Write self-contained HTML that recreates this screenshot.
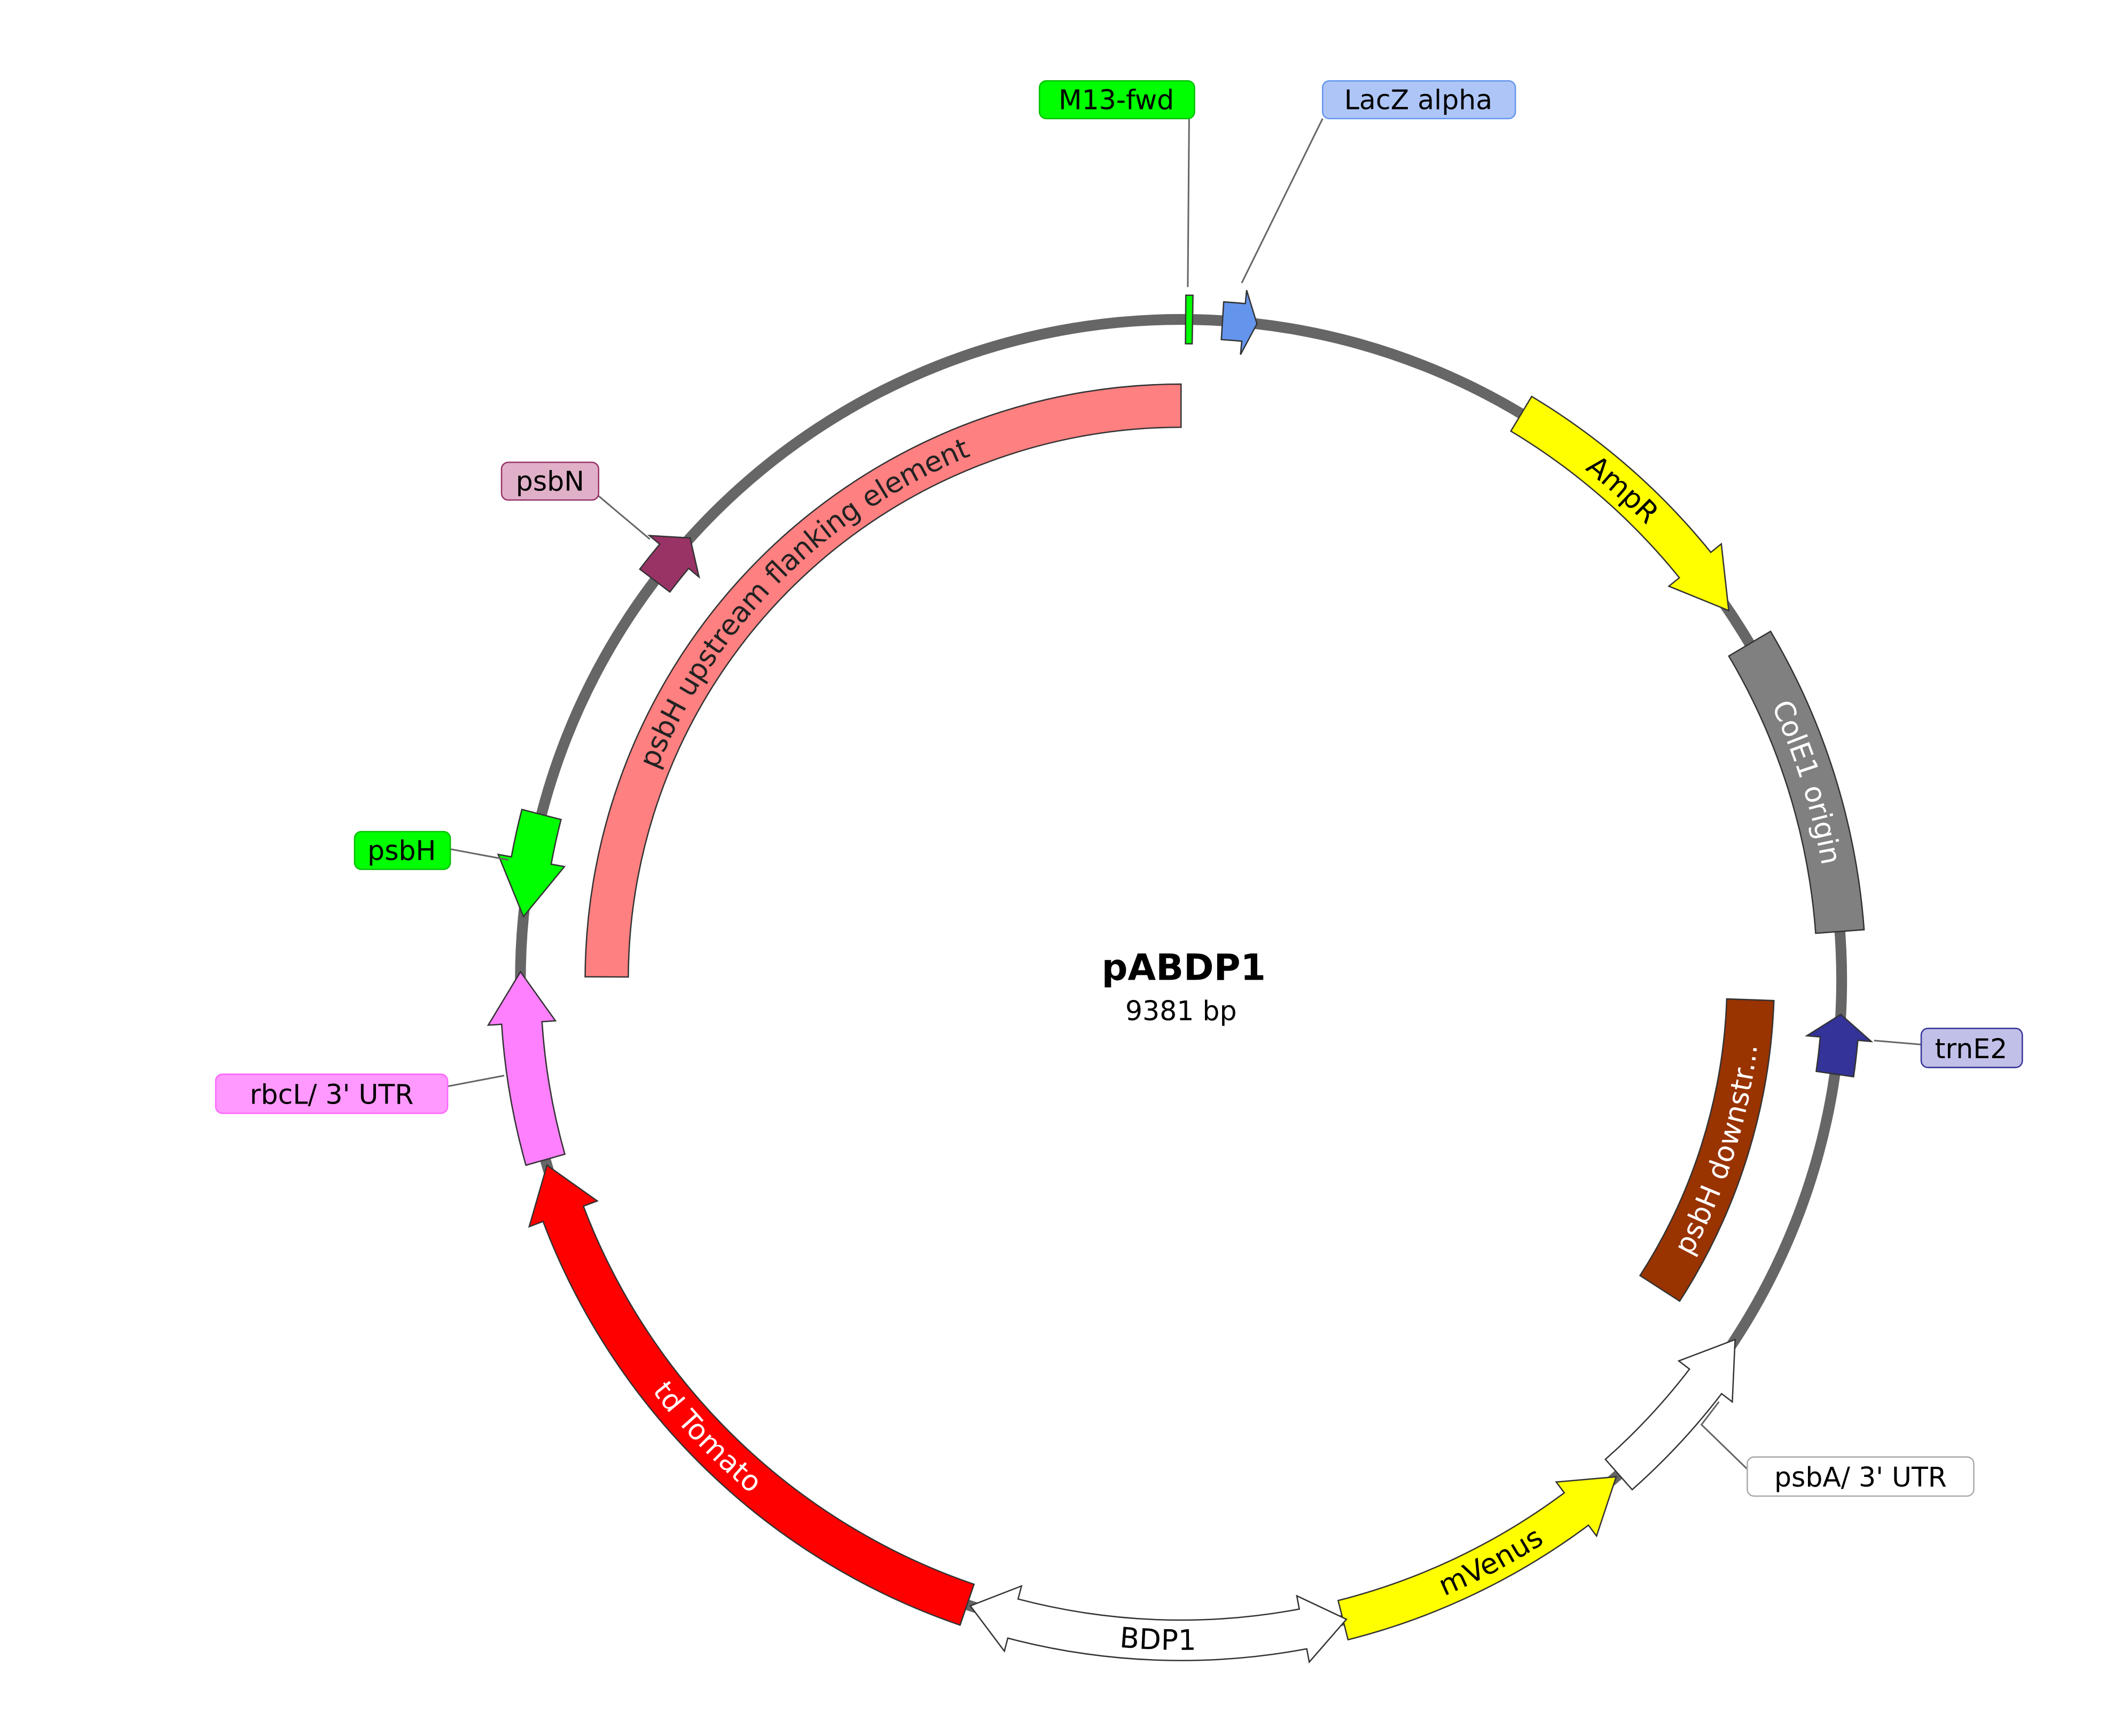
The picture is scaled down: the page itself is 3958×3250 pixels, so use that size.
<!DOCTYPE html>
<html><head><meta charset="utf-8"><style>
html,body{margin:0;padding:0;background:#fff;}
svg{display:block;}
text{font-family:"DejaVu Sans","Liberation Sans",sans-serif;}
</style></head><body>
<svg id="s" xmlns="http://www.w3.org/2000/svg" width="3958" height="3250" viewBox="0 0 1568 1288" preserveAspectRatio="none">
<rect width="1568" height="1288" fill="#fff"/>
<circle cx="876" cy="727" r="490" fill="none" stroke="#666" stroke-width="8"/>
<g id="f"></g>
<g stroke="#666" stroke-width="1.2" fill="none">
<line x1="882" y1="88" x2="881" y2="213"/>
<line x1="981" y1="88" x2="921" y2="210"/>
<line x1="444" y1="368" x2="482" y2="400"/>
<line x1="334" y1="630" x2="377" y2="638"/>
<line x1="332" y1="806" x2="374" y2="798"/>
<line x1="1390" y1="772" x2="1425" y2="775"/>
<polyline points="1296,1090 1262,1057 1275,1040"/>
</g>
<g font-size="20">
<rect x="771" y="60" width="115" height="28" rx="5" fill="#00ff00" stroke="#00c000"/><text x="828" y="81" text-anchor="middle">M13-fwd</text>
<rect x="981" y="60" width="143" height="28" rx="5" fill="#aec6f7" stroke="#6495ed"/><text x="1052" y="81" text-anchor="middle">LacZ alpha</text>
<rect x="372" y="343" width="72" height="28" rx="5" fill="#e0b0c8" stroke="#993366"/><text x="408" y="364" text-anchor="middle">psbN</text>
<rect x="263" y="617" width="71" height="28" rx="5" fill="#00ff00" stroke="#00c000"/><text x="298" y="638" text-anchor="middle">psbH</text>
<rect x="160" y="797" width="172" height="29" rx="5" fill="#ff99ff" stroke="#ff66ff"/><text x="246" y="819" text-anchor="middle">rbcL/ 3' UTR</text>
<rect x="1425" y="763" width="75" height="29" rx="5" fill="#c0c0e8" stroke="#333399"/><text x="1462" y="785" text-anchor="middle">trnE2</text>
<rect x="1296" y="1081" width="168" height="29" rx="5" fill="#fff" stroke="#aaa"/><text x="1380" y="1103" text-anchor="middle">psbA/ 3' UTR</text>
<text x="878" y="727" text-anchor="middle" font-size="27" font-weight="bold">pABDP1</text>
<text x="876" y="757" text-anchor="middle" font-size="20">9381 bp</text>
</g>
<defs id="d"></defs>
<g id="t" font-size="21"></g>
</svg>
<script>
const NS="http://www.w3.org/2000/svg",C={x:876,y:727};
function P(r,a){const t=a*Math.PI/180;return (C.x+r*Math.sin(t)).toFixed(2)+" "+(C.y-r*Math.cos(t)).toFixed(2);}
function arc(r,a1,a2){const sw=a2>a1?1:0,lg=Math.abs(a2-a1)>180?1:0;return `A${r} ${r} 0 ${lg} ${sw} ${P(r,a2)}`;}
function feat(ri,ro,a1,a2,dir,hl,hi,ho,fill){
 const rm=(ri+ro)/2,h=hl/(rm*Math.PI/180);
 const L=(dir==-1||dir==2),R=(dir==1||dir==2);
 const sB=L?a1+h:a1,eB=R?a2-h:a2;let d="";
 if(L)d+=`M${P(rm,a1)} L${P(ho,sB)} L${P(ro,sB)} `;else d+=`M${P(ro,a1)} `;
 d+=arc(ro,sB,eB)+" ";
 if(R)d+=`L${P(ho,eB)} L${P(rm,a2)} L${P(hi,eB)} L${P(ri,eB)} `;else d+=`L${P(ri,a2)} `;
 d+=arc(ri,eB,sB)+" ";
 if(L)d+=`L${P(hi,sB)} Z`;else d+="Z";
 const p=document.createElementNS(NS,"path");p.setAttribute("d",d);p.setAttribute("fill",fill);p.setAttribute("stroke","#333");p.setAttribute("stroke-width","1");
 document.getElementById("f").appendChild(p);
}
feat(410,442,270.3,360,0,0,0,0,"#ff8080");
feat(405,440,92,122.8,0,0,0,0,"#993300");
feat(472,508,0.4,1.0,0,0,0,0,"#00ff00");
feat(476,504,3.6,6.6,1,10,466,514,"#6495ed");
feat(475,505,31,56,1,42,465,515,"#ffff00");
feat(472,508,59.4,85.8,0,0,0,0,"#808080");
feat(476,504,93,98.2,-1,18,466,514,"#333399");
feat(475,505,123,138.5,-1,38,465,515,"#ffffff");
feat(475,505,138.8,165.8,-1,38,465,515,"#ffff00");
feat(475,505,165.5,198.6,2,33,465,515,"#ffffff");
feat(474,506,198.9,253.7,1,38,463,517,"#ff0000");
feat(475,505,254.2,270.7,1,38,465,515,"#ff80ff");
feat(475,505,275.5,284.5,-1,42,465,515,"#00ff00");
feat(476,504,307.2,312,1,18,466,514,"#993366");
let n=0;
function lab(r,a1,a2,txt,col){
 const id="tp"+(n++);const p=document.createElementNS(NS,"path");
 p.setAttribute("id",id);p.setAttribute("d",`M${P(r,a1)} `+arc(r,a1,a2));document.getElementById("d").appendChild(p);
 const t=document.createElementNS(NS,"text");t.setAttribute("fill",col);t.setAttribute("dominant-baseline","central");
 const tp=document.createElementNS(NS,"textPath");tp.setAttribute("href","#"+id);tp.setAttribute("startOffset","50%");tp.setAttribute("text-anchor","middle");tp.textContent=txt;
 t.appendChild(tp);document.getElementById("t").appendChild(t);
}
lab(490,28,56,"AmpR","#000");
lab(490,59,86,"ColE1 origin","#fff");
lab(423,125,90,"psbH downstr...","#fff");
lab(490,168,136,"mVenus","#000");
lab(490,200,164,"BDP1","#000");
lab(490,256,196,"td Tomato","#fff");
lab(426,270,360,"psbH upstream flanking element","#222");
</script>
</body></html>
